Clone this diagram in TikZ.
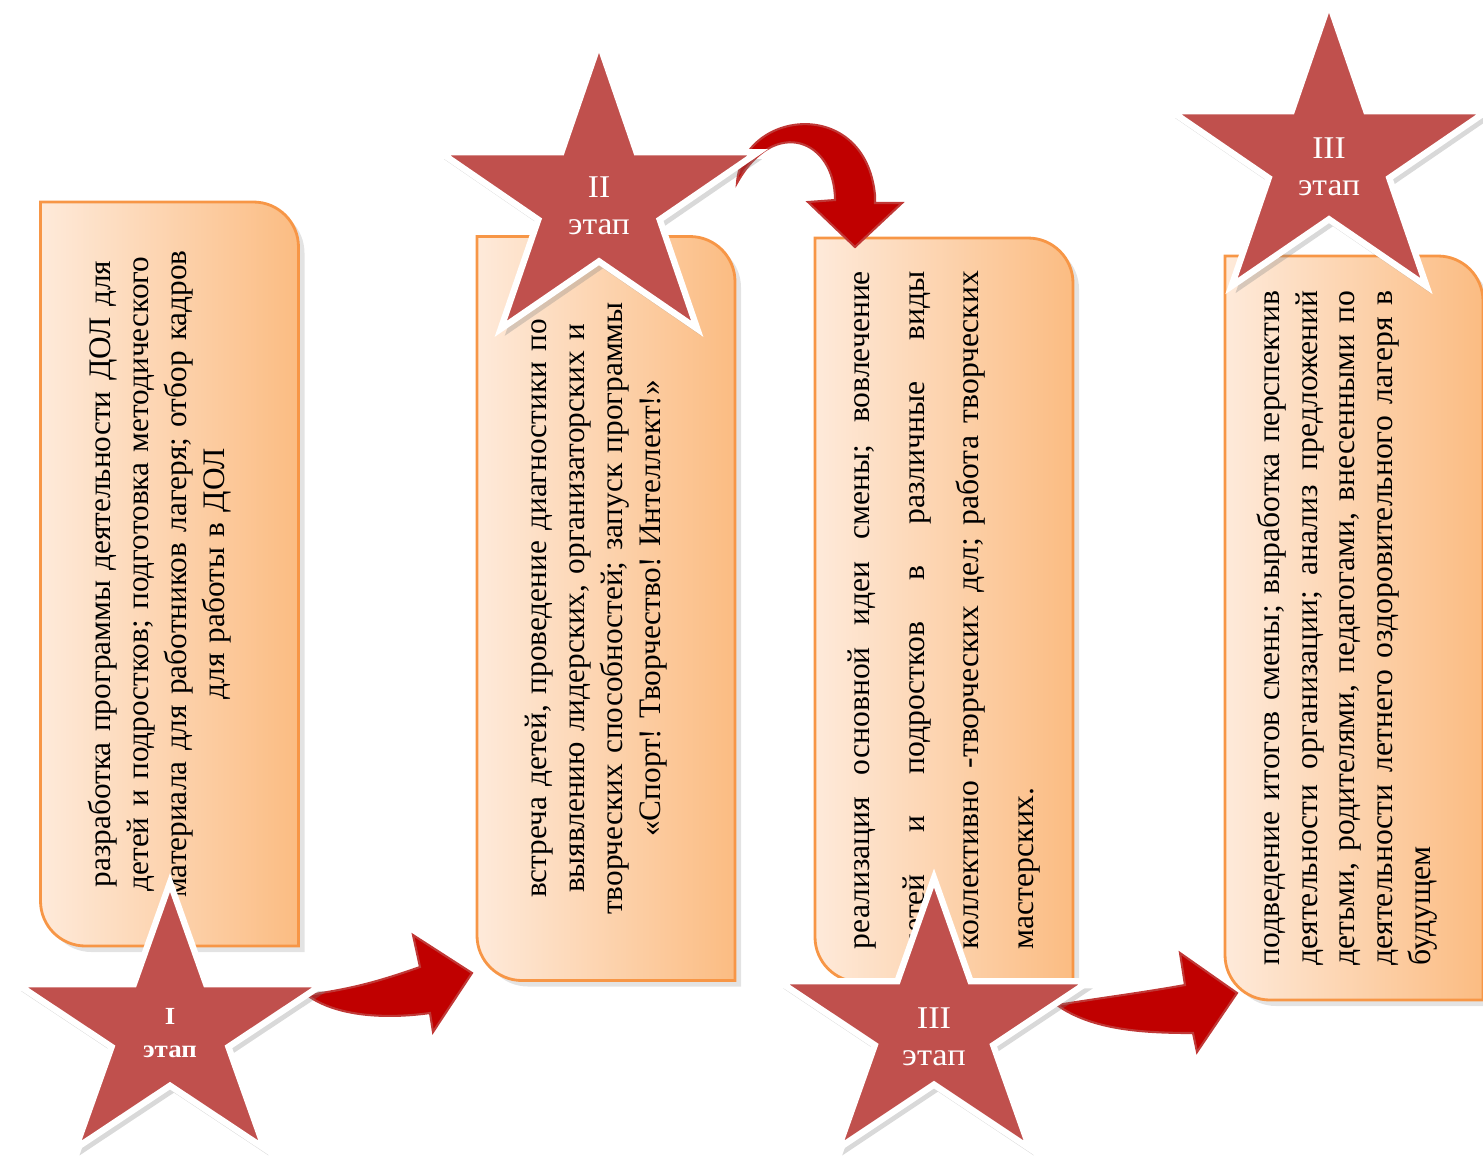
\documentclass[tikz,border=0pt]{standalone}
\usepackage{fontspec}
\setmainfont{Liberation Serif}
\usepackage{tikz}
\usetikzlibrary{positioning,shapes.geometric,shadows,backgrounds,calc}
\definecolor{boxlight}{HTML}{FEEADA}
\definecolor{boxdark}{HTML}{FBBC82}
\definecolor{boxline}{HTML}{F79646}
\definecolor{starred}{HTML}{C0504D}
\definecolor{arrowred}{HTML}{C00000}
\newcommand{\stageback}[2]{%
  \path[stageframe] ([xshift=#2]#1.north east) -- ([xshift=#2-4.5mm]#1.south east)
    arc[start angle=90,end angle=0,radius=4.5mm] -- ([xshift=#2]#1.south west)
    -- ([xshift=#2+4.5mm]#1.north west) arc[start angle=270,end angle=180,radius=4.5mm] -- cycle;}
\frenchspacing

\begin{document}
\begin{tikzpicture}[
    stagebox/.style={rotate=90,minimum width=7.44cm,minimum height=2.58cm,
      inner sep=0pt,outer sep=0pt,font=\fontsize{8.9}{10.8}\selectfont},
    stageframe/.style={draw=boxline,line width=0.8pt,left color=boxlight,right color=boxdark,
      drop shadow={opacity=0.22,shadow xshift=0.6mm,shadow yshift=-0.6mm}},
    stagestar/.style={star,star points=5,star point ratio=2.618,fill=starred,draw=white,
      line width=1.8pt,inner sep=0pt,text=white,align=center,
      font=\fontsize{9}{10.5}\selectfont,
      drop shadow={opacity=0.3,shadow xshift=0.4mm,shadow yshift=-0.7mm}},
    blockarrow/.style={fill=arrowred,draw=starred!70!arrowred,line width=0.6pt}]
  \useasboundingbox (0,0) rectangle (14.83,-11.65);
  \node[stagebox,text width=7.2cm,align=center] (b1) at (1.595,-5.74)
    {разработка программы деятельности ДОЛ для\\детей и подростков; подготовка методического\\материала для работников лагеря; отбор кадров\\для работы в ДОЛ};
  \node[stagebox,text width=7.2cm,align=center] (b2) at (5.96,-6.085)
    {встреча детей, проведение диагностики по\\выявлению лидерских, организаторских и\\творческих способностей; запуск программы\\«Спорт! Творчество! Интеллект!»};
  \node[stagebox,text width=6.78cm,align=justify,font=\fontsize{9}{15.6}\selectfont] (b3) at (9.44,-6.10)
    {реализация основной идеи смены; вовлечение\linebreak детей и подростков в различные виды\linebreak коллективно -творческих дел; работа творческих\linebreak мастерских.};
  \node[stagebox,text width=6.75cm,align=justify,font=\fontsize{9}{10.7}\selectfont] (b4) at (13.47,-6.28)
    {подведение итогов смены; выработка перспектив\linebreak деятельности организации; анализ предложений\linebreak детьми, родителями, педагогами, внесенными по\linebreak деятельности летнего оздоровительного лагеря в\linebreak будущем};
  \begin{scope}[on background layer]
    \stageback{b1}{1mm}
    \stageback{b2}{1mm}
    \stageback{b3}{0mm}
    \stageback{b4}{0.7mm}
  \end{scope}
  \path (1.70,-10.295) coordinate (c1) (5.99,-2.01) coordinate (c2)
    (9.34,-10.275) coordinate (c3) (13.29,-1.595) coordinate (c4);
  \path ($(c1)+(1.37,0.345)$) coordinate (t1) ($(c2)+(1.38,0.18)$) coordinate (t2)
    ($(c3)+(1.23,0.225)$) coordinate (t3);
  \draw[blockarrow] (t1) .. controls +(0.45,0.06) and +(-0.4,-0.14) .. ++(1.13,0.28)
    -- ++(-0.07,0.32) -- ++(0.59,-0.38) -- ++(-0.39,-0.59) -- ++(-0.03,0.19)
    .. controls +(-0.43,-0.06) and +(0.3,-0.22) .. (t1) -- cycle;
  \draw[blockarrow] (t2) .. controls +(0.05,0.73) and +(-0.10,1.00) .. ++(1.38,-0.12)
    -- ++(0,-0.08) -- ++(0.27,0) -- ++(-0.47,-0.44) -- ++(-0.47,0.45) -- ++(0.27,0.02)
    .. controls +(0,0.6) and +(0.38,0.68) .. (t2) -- cycle;
  \draw[blockarrow] (t3) .. controls +(0.5,0.08) and +(-0.45,-0.08) .. ++(1.28,0.20)
    -- ++(-0.05,0.32) -- ++(0.57,-0.40) -- ++(-0.40,-0.59) -- ++(-0.04,0.19)
    .. controls +(-0.5,0) and +(0.35,-0.25) .. (t3) -- cycle;
  \node[stagestar,minimum size=2.94cm,xscale=1.094,font=\bfseries\fontsize{7}{9.5}\selectfont] (s1) at (c1) {\rule{0pt}{2.3mm}I\\этап};
  \node[stagestar,minimum size=3.16cm,xscale=1.058] (s2) at (c2) {\rule{0pt}{3.1mm}II\\этап};
  \node[stagestar,minimum size=2.99cm,xscale=1.09] (s3) at (c3) {\rule{0pt}{4mm}III\\этап};
  \node[stagestar,minimum size=3.13cm,xscale=1.06] (s4) at (c4) {\rule{0pt}{3.6mm}III\\этап};
\end{tikzpicture}
\end{document}
